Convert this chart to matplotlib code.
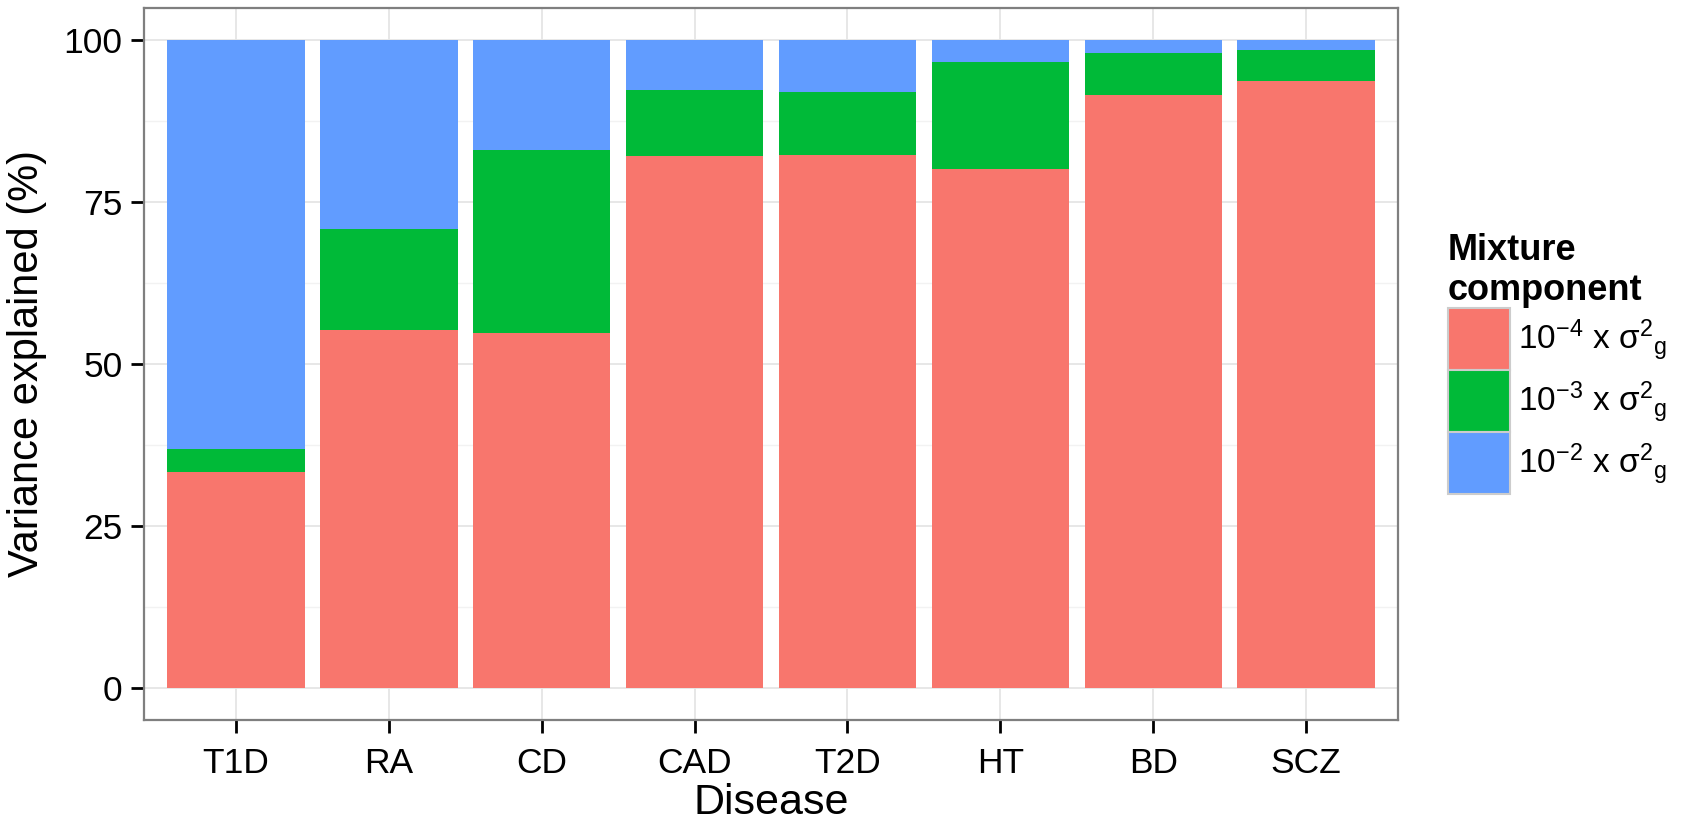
import numpy as np
import matplotlib
matplotlib.use("Agg")
import matplotlib.pyplot as plt
from matplotlib.patches import Patch

# data (percent of variance per mixture component)
diseases = ["T1D", "RA", "CD", "CAD", "T2D", "HT", "BD", "SCZ"]
comp_1e4 = [33.3, 55.2, 54.7, 82.0, 82.25, 80.1, 91.5, 93.7]
comp_1e3 = [3.5, 15.6, 28.3, 10.2, 9.75, 16.5, 6.5, 4.8]
comp_1e2 = [100 - a - b for a, b in zip(comp_1e4, comp_1e3)]

labels = [r"$\mathregular{10^{-4}\ x\ \sigma^{2}{}_{g}}$",
          r"$\mathregular{10^{-3}\ x\ \sigma^{2}{}_{g}}$",
          r"$\mathregular{10^{-2}\ x\ \sigma^{2}{}_{g}}$"]
colors = ["#F8766D", "#00BA38", "#619CFF"]

plt.rcParams["font.family"] = ["Liberation Sans", "DejaVu Sans"]
plt.rcParams["mathtext.fontset"] = "custom"
plt.rcParams["mathtext.rm"] = "Liberation Sans"
plt.rcParams["mathtext.it"] = "Liberation Sans:italic"

fig = plt.figure(figsize=(16.87, 8.22), dpi=100)
ax = fig.add_axes([144 / 1687, 1 - 720 / 822, (1398 - 144) / 1687, (720 - 7.5) / 822])

x = np.arange(len(diseases))
bottom = np.zeros(len(diseases))
for vals, col in zip([comp_1e4, comp_1e3, comp_1e2], colors):
    ax.bar(x, vals, width=0.9, bottom=bottom, color=col, linewidth=0, zorder=3)
    bottom += np.array(vals)

# theme_bw look
ax.set_xlim(-0.6, len(diseases) - 0.4)
ax.set_ylim(-5, 105)
ax.set_yticks([0, 25, 50, 75, 100])
ax.set_yticks([12.5, 37.5, 62.5, 87.5], minor=True)
ax.set_xticks(x)
ax.set_xticklabels(diseases)
ax.grid(which="major", color="#e5e5e5", linewidth=1.3, zorder=0)
ax.grid(which="minor", axis="y", color="#f2f2f2", linewidth=1.0, zorder=0)
for s in ax.spines.values():
    s.set_color("#7f7f7f")
    s.set_linewidth(1.6)
ax.tick_params(axis="both", which="major", length=9.5, width=2, color="black",
               labelsize=25.5, labelcolor="black", pad=6)
ax.tick_params(axis="x", pad=10)
ax.tick_params(which="minor", length=0)

ax.set_xlabel("Disease", fontsize=31, labelpad=2)
ax.set_ylabel("Variance explained (%)", fontsize=30, labelpad=12)

# legend keys: patch height = fontsize*(0.65*hh + 0.245)
handles = [Patch(facecolor=c, edgecolor="#cccccc", linewidth=1.5) for c in colors]
leg = fig.legend(handles, labels, loc="upper left",
                 bbox_to_anchor=(1448 / 1687, 1 - 233 / 822),
                 frameon=False, fontsize=24, borderpad=0, borderaxespad=0,
                 handlelength=1.86, handleheight=2.485, labelspacing=0.0,
                 handletextpad=0.25, title="Mixture\ncomponent",
                 title_fontproperties={"weight": "bold", "size": 26},
                 alignment="left")

fig.savefig("out.png", dpi=100)
